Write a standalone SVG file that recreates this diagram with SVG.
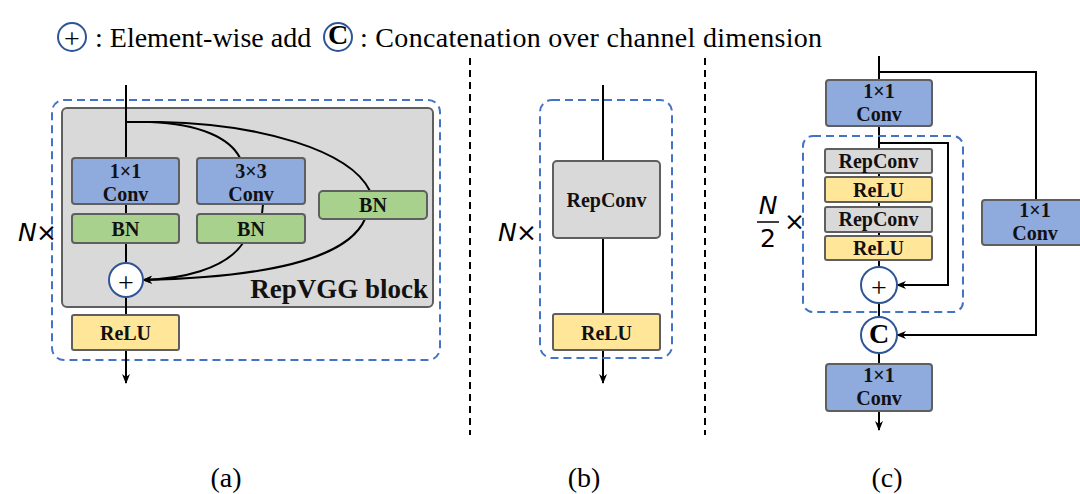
<svg xmlns="http://www.w3.org/2000/svg" width="1080" height="494" viewBox="0 0 1080 494">
<defs>
<marker id="ah" markerWidth="10" markerHeight="10" refX="9" refY="5" orient="auto" markerUnits="userSpaceOnUse">
<path d="M0,1 L10,5 L0,9 L3,5 Z" fill="#000"/>
</marker>
<style>
.box{stroke:#5f5f5f;stroke-width:2}
.blue{fill:#8faadc}
.green{fill:#a9d18e}
.yellow{fill:#ffe699}
.gray{fill:#d9d9d9}
.dash{fill:none;stroke:#4472c4;stroke-width:2;stroke-dasharray:8,5}
.sep{stroke:#000;stroke-width:2;stroke-dasharray:7,5}
.ln{fill:none;stroke:#000;stroke-width:2}
.circ{fill:#fff;stroke:#2f5597;stroke-width:2}
.t{font-family:"Liberation Serif","Times New Roman",serif;font-weight:bold;font-size:20px;fill:#111;text-anchor:middle}
.lg{font-family:"Liberation Serif","Times New Roman",serif;font-size:28px;fill:#000}
.cap{font-family:"Liberation Serif","Times New Roman",serif;font-size:28px;fill:#000;text-anchor:middle}
.math{font-family:"DejaVu Sans",sans-serif;font-size:25px;fill:#000}
</style>
</defs>

<g id="legend">
<circle class="circ" cx="72" cy="37" r="14"/>
<text x="72" y="48" class="lg" text-anchor="middle" font-size="34">+</text>
<text x="95" y="47" class="lg">: Element-wise add</text>
<circle class="circ" cx="338" cy="37" r="14"/>
<text x="338" y="44" class="lg" text-anchor="middle" font-weight="bold" font-size="20">C</text>
<text x="360" y="47" class="lg" textLength="462">: Concatenation over channel dimension</text>
</g>

<g id="separators">
<line class="sep" x1="470" y1="58" x2="470" y2="435"/>
<line class="sep" x1="705" y1="58" x2="705" y2="435"/>
</g>

<!-- Panel (a) -->
<g id="a-frame">
<rect class="dash" x="52" y="100" width="388" height="260" rx="12"/>
<rect x="62" y="108" width="371" height="199" rx="5" fill="#d9d9d9" stroke="#5f5f5f" stroke-width="2"/>
<text x="428" y="298" font-family="Liberation Serif,Times New Roman,serif" font-weight="bold" font-size="27" text-anchor="end" fill="#111">RepVGG block</text>
<text x="18" y="241" class="math" font-style="italic">N</text>
<text x="36" y="241" class="math">×</text>
</g>

<g id="connectors">
<!-- (a) -->
<line class="ln" x1="126" y1="85" x2="126" y2="158"/>
<path class="ln" d="M126,122 L150,122 C200,124 230,138 240,158"/>
<path class="ln" d="M126,122 L160,122 C260,124 350,150 370,191"/>
<line class="ln" x1="126" y1="204" x2="126" y2="214"/>
<line class="ln" x1="263" y1="204" x2="262" y2="214"/>
<line class="ln" x1="126" y1="243" x2="126" y2="263"/>
<path class="ln" d="M243,243 C225,270 180,279 143,280" marker-end="url(#ah)"/>
<path class="ln" d="M365,219 C345,265 240,278 143,280" marker-end="url(#ah)"/>
<line class="ln" x1="126" y1="297" x2="126" y2="315"/>
<line class="ln" x1="126" y1="350" x2="126" y2="383" marker-end="url(#ah)"/>
<!-- (b) -->
<line class="ln" x1="603" y1="85" x2="603" y2="161"/>
<line class="ln" x1="603" y1="238" x2="603" y2="314"/>
<line class="ln" x1="603" y1="350" x2="603" y2="383" marker-end="url(#ah)"/>
<!-- (c) -->
<line class="ln" x1="879" y1="56" x2="879" y2="80"/>
<path class="ln" d="M879,72 L1036,72 L1036,200"/>
<path class="ln" d="M1036,245 L1036,335 L897,335" marker-end="url(#ah)"/>
<line class="ln" x1="879" y1="126" x2="879" y2="149"/>
<path class="ln" d="M879,143 L948,143 L948,285 L897,285" marker-end="url(#ah)"/>
<line class="ln" x1="879" y1="173" x2="879" y2="177"/>
<line class="ln" x1="879" y1="202" x2="879" y2="207"/>
<line class="ln" x1="879" y1="232" x2="879" y2="236"/>
<line class="ln" x1="879" y1="260" x2="879" y2="267"/>
<line class="ln" x1="879" y1="303" x2="879" y2="317"/>
<line class="ln" x1="879" y1="353" x2="879" y2="364"/>
<line class="ln" x1="879" y1="411" x2="879" y2="430" marker-end="url(#ah)"/>
</g>

<g id="a-conv1">
<rect class="box blue" x="72" y="158" width="107" height="46" rx="3"/>
<text class="t" x="125.5" y="178">1×1</text>
<text class="t" x="125.5" y="201">Conv</text>
</g>
<g id="a-bn1">
<rect class="box green" x="72" y="214" width="107" height="29" rx="3"/>
<text class="t" x="125.5" y="236">BN</text>
</g>
<g id="a-conv3">
<rect class="box blue" x="197" y="158" width="108" height="46" rx="3"/>
<text class="t" x="251" y="178">3×3</text>
<text class="t" x="251" y="201">Conv</text>
</g>
<g id="a-bn2">
<rect class="box green" x="197" y="214" width="108" height="29" rx="3"/>
<text class="t" x="251" y="236">BN</text>
</g>
<g id="a-bn3">
<rect class="box green" x="319" y="191" width="108" height="28" rx="4"/>
<text class="t" x="373" y="212">BN</text>
</g>
<g id="a-add">
<circle class="circ" cx="126" cy="280" r="17"/>
<text x="126" y="292" class="lg" text-anchor="middle" font-size="36">+</text>
</g>
<g id="a-relu">
<rect class="box yellow" x="72" y="315" width="107" height="35" rx="2"/>
<text class="t" x="125.5" y="340">ReLU</text>
</g>

<!-- Panel (b) -->
<g id="b-frame">
<rect class="dash" x="540" y="100" width="132" height="258" rx="12"/>
<text x="498" y="241" class="math" font-style="italic">N</text>
<text x="516" y="241" class="math">×</text>
</g>
<g id="b-repconv">
<rect class="box gray" x="553" y="161" width="107" height="77" rx="4"/>
<text class="t" x="606.5" y="207">RepConv</text>
</g>
<g id="b-relu">
<rect class="box yellow" x="553" y="314" width="107" height="36" rx="2"/>
<text class="t" x="606.5" y="340">ReLU</text>
</g>

<!-- Panel (c) -->
<g id="c-frame">
<rect class="dash" x="803" y="136" width="160" height="176" rx="10"/>
<text x="768" y="214" class="math" font-style="italic" text-anchor="middle">N</text>
<line x1="757" y1="222" x2="779" y2="222" stroke="#000" stroke-width="1.5"/>
<text x="768" y="247" class="math" text-anchor="middle">2</text>
<text x="784" y="230" class="math">×</text>
</g>
<g id="c-conv-top">
<rect class="box blue" x="826" y="80" width="106" height="46" rx="3"/>
<text class="t" x="879" y="98">1×1</text>
<text class="t" x="879" y="121">Conv</text>
</g>
<g id="c-repconv1">
<rect class="box gray" x="825" y="149" width="107" height="24" rx="2"/>
<text class="t" x="878.5" y="168">RepConv</text>
</g>
<g id="c-relu1">
<rect class="box yellow" x="825" y="177" width="107" height="25" rx="2"/>
<text class="t" x="878.5" y="197">ReLU</text>
</g>
<g id="c-repconv2">
<rect class="box gray" x="825" y="207" width="107" height="25" rx="2"/>
<text class="t" x="878.5" y="226">RepConv</text>
</g>
<g id="c-relu2">
<rect class="box yellow" x="825" y="236" width="107" height="24" rx="2"/>
<text class="t" x="878.5" y="255">ReLU</text>
</g>
<g id="c-add">
<circle class="circ" cx="879" cy="285" r="18"/>
<text x="879" y="297" class="lg" text-anchor="middle" font-size="36">+</text>
</g>
<g id="c-concat">
<circle class="circ" cx="879" cy="335" r="18"/>
<text x="879" y="343" class="lg" text-anchor="middle" font-weight="bold" font-size="21">C</text>
</g>
<g id="c-conv-bottom">
<rect class="box blue" x="826" y="364" width="106" height="47" rx="3"/>
<text class="t" x="879" y="382">1×1</text>
<text class="t" x="879" y="405">Conv</text>
</g>
<g id="c-conv-side">
<rect class="box blue" x="982" y="200" width="106" height="45" rx="3"/>
<text class="t" x="1035" y="217">1×1</text>
<text class="t" x="1035" y="240">Conv</text>
</g>

<g id="captions">
<text class="cap" x="226" y="487">(a)</text>
<text class="cap" x="584" y="487">(b)</text>
<text class="cap" x="887" y="487">(c)</text>
</g>
</svg>
